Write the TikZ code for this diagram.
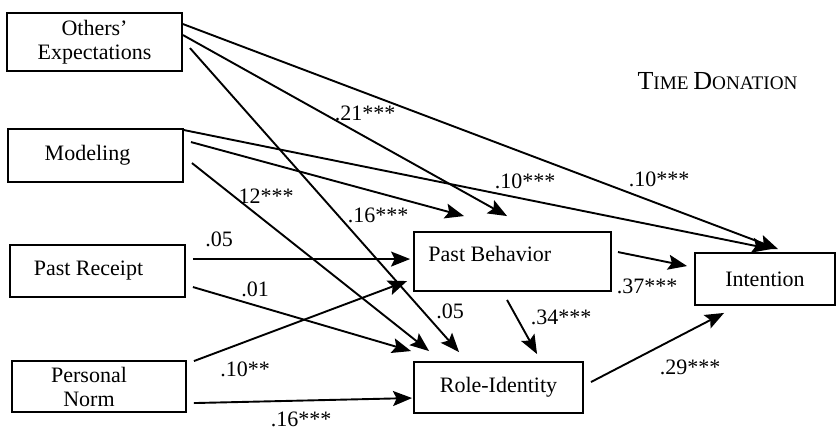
\documentclass[tikz,border=0pt]{standalone}
\usepackage{fontspec}
\setmainfont{Liberation Serif}
\usetikzlibrary{arrows.meta,calc}
\tikzset{
  box/.style={draw, line width=0.95pt, inner sep=0pt, align=center, font=\fontsize{11}{12}\selectfont},
  lbl/.style={inner sep=0pt, font=\fontsize{11}{13}\selectfont},
  conn/.style={line width=0.95pt, -{Stealth[length=9.5pt,width=7.5pt,inset=1.8pt]}},
}
\begin{document}
\begin{tikzpicture}[x=0.5pt,y=-0.5pt]
\useasboundingbox (0,0) rectangle (836,429);
% boxes
\node[box, minimum width=87.5pt, minimum height=29pt] (oe) at (94.5,42) {Others’\\Expectations};
\node[box, minimum width=87.5pt, minimum height=26.5pt] (mo) at (95.5,155.5) {Modeling\hspace*{8pt}};
\node[box, minimum width=87.5pt, minimum height=26pt] (pr) at (97.5,271) {Past Receipt\hspace*{9pt}};
\node[box, minimum width=87pt, minimum height=25.5pt] (pn) at (99,386.5) {Personal\hspace*{10pt}\\Norm\hspace*{10pt}};
\node[box, minimum width=98.5pt, minimum height=29.5pt] (pb) at (512.5,261.5) {};
\node[lbl, anchor=west] (pbt) at ($(pb.west)+(15,-8)$) {Past Behavior};
\node[box, minimum width=84.5pt, minimum height=25.5pt] (ri) at (498.5,387.5) {Role-Identity};
\node[box, minimum width=70pt, minimum height=26pt] (in) at (765,279) {Intention};
% title
\node[inner sep=0pt] (title) at (717.5,81) {\fontsize{13}{15}\selectfont T\fontsize{9.6}{12}\selectfont IME \fontsize{13}{15}\selectfont D\fontsize{9.6}{12}\selectfont ONATION};
% connectors
\draw[conn] ($(oe.north east)+(0,12)$) -- ($(in.north west)+(84,-3)$);
\draw[conn] ($(oe.north east)+(0,23)$) -- ($(pb.north west)+(94,-15)$);
\draw[conn] ($(oe.north east)+(7,36)$) -- ($(ri.north west)+(46,-9)$);
\draw[conn] ($(mo.north east)+(0,2)$) -- ($(in.north west)+(77,-3)$);
\draw[conn] ($(mo.north east)+(7,14)$) -- ($(pb.north west)+(51,-15)$);
\draw[conn] ($(mo.north east)+(8,35)$) -- ($(ri.north west)+(16,-10)$);
\draw[conn] ($(pr.north east)+(7,15)$) -- ($(pb.north west)+(-3,28)$);
\draw[conn] ($(pr.north east)+(7,43)$) -- ($(ri.north west)+(-2,-10)$);
\draw[conn] ($(pn.north east)+(7,1)$) -- ($(pb.north west)+(-6,50)$);
\draw[conn] ($(pn.north east)+(7,43)$) -- ($(ri.north west)+(-1,37)$);
\draw[conn] ($(pb.south west)+(94,8)$) -- ($(ri.north west)+(124,-7)$);
\draw[conn] ($(pb.north east)+(6,21)$) -- ($(in.north west)+(-7,14)$);
\draw[conn] ($(ri.north east)+(7,21)$) -- ($(in.south west)+(30,7)$);
% labels
\node[lbl] (l1) at (365,113) {.21***};
\node[lbl] (l2) at (525,181) {.10***};
\node[lbl] (l3) at (659,179) {.10***};
\node[lbl] (l4) at (266,196) {12***};
\node[lbl] (l5) at (378,215) {.16***};
\node[lbl] (l6) at (219,239) {.05};
\node[lbl] (l7) at (255,289) {.01};
\node[lbl] (l8) at (245,369) {.10**};
\node[lbl] (l9) at (301,419) {.16***};
\node[lbl] (l10) at (450,311) {.05};
\node[lbl] (l11) at (561,317) {.34***};
\node[lbl] (l12) at (647,286) {.37***};
\node[lbl] (l13) at (690,367) {.29***};
\end{tikzpicture}
\end{document}
